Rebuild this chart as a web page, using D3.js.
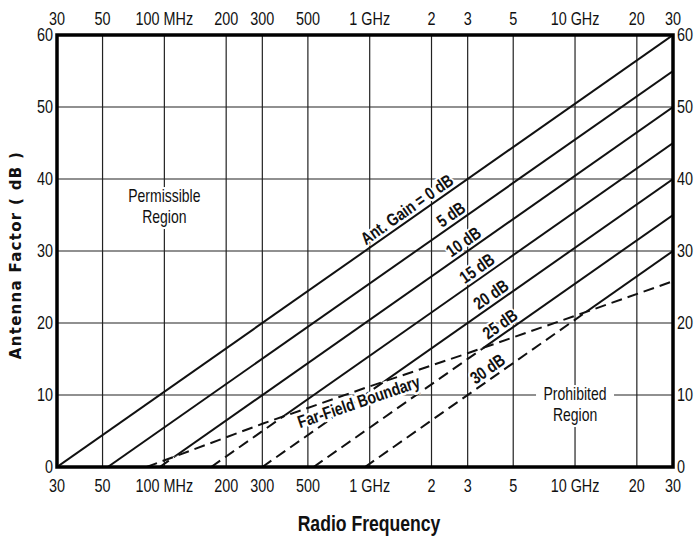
<!DOCTYPE html>
<html>
<head>
<meta charset="utf-8" />
<script src="https://d3js.org/d3.v7.min.js"></script>
<style>
    body { margin: 0; background: #fff; }
    svg { display: block; }
    text { font-family: "Liberation Sans Narrow", "Arial Narrow", "Liberation Sans", sans-serif; fill: #111; }
    .tick-label { font-size: 18px; }
    .line-label { font-size: 17.5px; font-weight: bold; }
    .region { font-size: 17.5px; }
    .ytitle { font-family: "DejaVu Sans", sans-serif; font-weight: bold; font-size: 15px; letter-spacing: 1.3px; }
    .xtitle { font-size: 22px; font-weight: bold; }
</style>
</head>
<body>
<div id="chart"></div>
<script>
// frequency axis (MHz)
var freqTicks = [30, 50, 100, 200, 300, 500, 1000, 2000, 3000, 5000, 10000, 20000, 30000];
var freqLabels = ["30", "50", "100 MHz", "200", "300", "500", "1 GHz", "2", "3", "5", "10 GHz", "20", "30"];
var afTicks = [0, 10, 20, 30, 40, 50, 60];

// antenna gain lines: frequency where AF = 0, and AF reached at 30 GHz
var gains = [0, 5, 10, 15, 20, 25, 30];
var gainStartMHz = [30, 53, 95, 169, 300, 533, 949];
var gainEndAF = [60, 55, 50, 45, 40, 35, 30];
var gainLabels = ["Ant. Gain = 0 dB", "5 dB", "10 dB", "15 dB", "20 dB", "25 dB", "30 dB"];
var gainLabelMHz = [1620, 2650, 3050, 3550, 4150, 4600, 4000];

// far-field boundary
var boundaryMHz = [82, 300, 1000, 3000, 10000, 30000];
var boundaryAF = [0, 6.0, 11.2, 15.8, 21.0, 25.8];

var width = 699, height = 539;
var margin = {top: 35, right: 26, bottom: 72, left: 57};
var w = width - margin.left - margin.right;
var h = height - margin.top - margin.bottom;
var narrow = 0.8;

var svg = d3.select('#chart').append('svg')
    .attr('width', width)
    .attr('height', height);

var g = svg.append('g')
    .attr('transform', 'translate(' + margin.left + ',' + margin.top + ')');

var x = d3.scaleLog().domain([30, 30000]).range([0, w]);
var y = d3.scaleLinear().domain([0, 60]).range([h, 0]);

// grid
g.append('g').selectAll('line.v')
    .data(freqTicks.slice(1, -1))
    .enter().append('line')
    .attr('x1', function(d) { return x(d); })
    .attr('x2', function(d) { return x(d); })
    .attr('y1', 0).attr('y2', h)
    .attr('stroke', '#222').attr('stroke-width', 1.2);

g.append('g').selectAll('line.h')
    .data(afTicks.slice(1, -1))
    .enter().append('line')
    .attr('x1', 0).attr('x2', w)
    .attr('y1', function(d) { return y(d); })
    .attr('y2', function(d) { return y(d); })
    .attr('stroke', '#222').attr('stroke-width', 1.2);

// clip regions above / below the far-field boundary
var boundary = boundaryMHz.map(function(f, i) { return [f, boundaryAF[i]]; });
var clipPts = [[20, 0]].concat(boundary).concat([[40000, 28]]);
var defs = svg.append('defs');
defs.append('clipPath').attr('id', 'above')
    .append('path')
    .attr('d', d3.area()
        .x(function(d) { return x(d[0]); })
        .y0(-10)
        .y1(function(d) { return y(d[1]); })(clipPts));
defs.append('clipPath').attr('id', 'below')
    .append('path')
    .attr('d', d3.area()
        .x(function(d) { return x(d[0]); })
        .y0(h + 10)
        .y1(function(d) { return y(d[1]); })(clipPts));
defs.append('clipPath').attr('id', 'plot')
    .append('rect').attr('width', w).attr('height', h);

var lines = gains.map(function(gn, i) {
    return [[gainStartMHz[i], 0], [30000, gainEndAF[i]]];
});
var lineGen = d3.line()
    .x(function(d) { return x(d[0]); })
    .y(function(d) { return y(d[1]); });

var plot = g.append('g').attr('clip-path', 'url(#plot)');

plot.append('g').attr('clip-path', 'url(#below)')
    .selectAll('path').data(lines).enter().append('path')
    .attr('d', lineGen)
    .attr('fill', 'none').attr('stroke', '#111')
    .attr('stroke-width', 2).attr('stroke-dasharray', '11,6');

plot.append('g').attr('clip-path', 'url(#above)')
    .selectAll('path').data(lines).enter().append('path')
    .attr('d', lineGen)
    .attr('fill', 'none').attr('stroke', '#111')
    .attr('stroke-width', 2);

plot.append('path')
    .datum(boundary)
    .attr('d', lineGen)
    .attr('fill', 'none').attr('stroke', '#111')
    .attr('stroke-width', 2).attr('stroke-dasharray', '11,6');

// value of a straight gain line at frequency f
function lineAt(i, f) {
    var t = Math.log(f / gainStartMHz[i]) / Math.log(30000 / gainStartMHz[i]);
    return t * gainEndAF[i];
}
function angleOf(p0, p1) {
    return Math.atan2(y(p1[1]) - y(p0[1]), x(p1[0]) - x(p0[0])) * 180 / Math.PI;
}

// gain line labels
gainLabels.forEach(function(lbl, i) {
    var f = gainLabelMHz[i];
    var a = angleOf(lines[i][0], lines[i][1]);
    g.append('text')
        .attr('class', 'line-label')
        .attr('transform', 'translate(' + x(f) + ',' + y(lineAt(i, f)) + ') rotate(' + a + ') scale(' + narrow + ',1)')
        .attr('text-anchor', 'middle')
        .attr('dy', -4)
        .style('stroke', '#fff').style('stroke-width', 4).style('paint-order', 'stroke')
        .text(lbl);
});

// far-field boundary label
var ffF = 850;
var ffAF = d3.scaleLog().domain(boundaryMHz).range(boundaryAF)(ffF);
g.append('text')
    .attr('class', 'line-label')
    .attr('transform', 'translate(' + x(ffF) + ',' + y(ffAF) + ') rotate(' + angleOf(boundary[1], boundary[3]) + ') scale(' + narrow + ',1)')
    .attr('text-anchor', 'middle')
    .attr('dy', 17)
    .style('stroke', '#fff').style('stroke-width', 5).style('paint-order', 'stroke')
    .text('Far-Field Boundary');

// region labels
function regionLabel(f, af, l1, l2) {
    var gg = g.append('g').attr('transform', 'translate(' + x(f) + ',' + y(af) + ')');
    gg.append('rect').attr('x', -39).attr('y', -15).attr('width', 78).attr('height', 42).attr('fill', '#fff');
    gg.append('text').attr('class', 'region').attr('text-anchor', 'middle')
        .attr('transform', 'scale(' + narrow + ',1)').attr('y', 0).text(l1);
    gg.append('text').attr('class', 'region').attr('text-anchor', 'middle')
        .attr('transform', 'scale(' + narrow + ',1)').attr('y', 21).text(l2);
}
regionLabel(100, 36.8, 'Permissible', 'Region');
regionLabel(10000, 9.3, 'Prohibited', 'Region');

// frame
g.append('rect')
    .attr('width', w).attr('height', h)
    .attr('fill', 'none').attr('stroke', '#000').attr('stroke-width', 3.5);

// tick labels
function tickText(px, py, anchor, txt) {
    g.append('text').attr('class', 'tick-label').attr('text-anchor', anchor)
        .attr('transform', 'translate(' + px + ',' + py + ') scale(' + narrow + ',1)')
        .attr('dy', anchor === 'middle' ? 0 : '0.35em')
        .text(txt);
}
freqTicks.forEach(function(f, i) {
    tickText(x(f), -10, 'middle', freqLabels[i]);
    tickText(x(f), h + 25, 'middle', freqLabels[i]);
});
afTicks.forEach(function(v) {
    tickText(-4, y(v), 'end', v);
    tickText(w + 4, y(v), 'start', v);
});

// axis titles
svg.append('text').attr('class', 'xtitle').attr('text-anchor', 'middle')
    .attr('transform', 'translate(' + (margin.left + w / 2 + 4) + ',531) scale(' + narrow + ',1)')
    .text('Radio Frequency');
svg.append('text').attr('class', 'ytitle').attr('text-anchor', 'middle')
    .attr('transform', 'translate(21,' + (margin.top + 220) + ') rotate(-90)')
    .text('Antenna Factor ( dB )');
</script>
</body>
</html>
